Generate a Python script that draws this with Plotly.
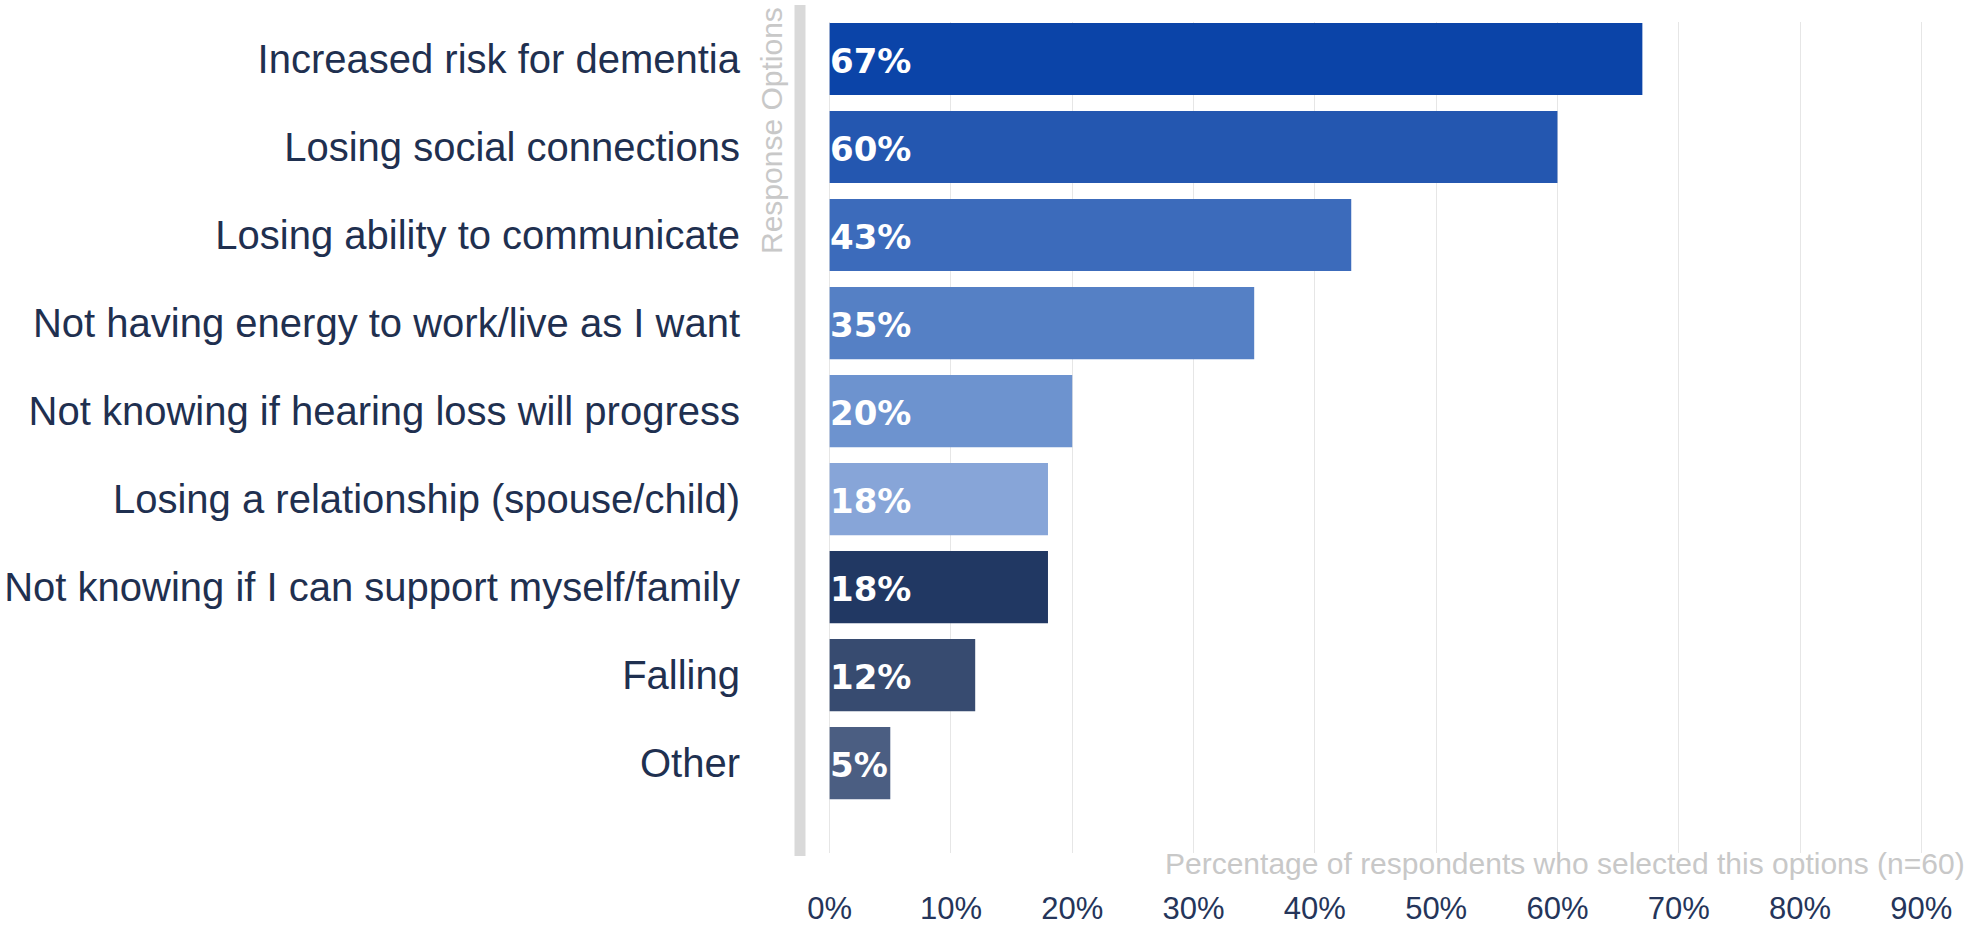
import plotly.graph_objects as go

# Survey results: share of respondents selecting each concern
categories = [
    "Increased risk for dementia",
    "Losing social connections",
    "Losing ability to communicate",
    "Not having energy to work/live as I want",
    "Not knowing if hearing loss will progress",
    "Losing a relationship (spouse/child)",
    "Not knowing if I can support myself/family",
    "Falling",
    "Other",
]
percent = [67, 60, 43, 35, 20, 18, 18, 12, 5]
bar_colors = [
    "#0B44A8", "#2457B0", "#3C6BBB", "#5580C5", "#6D93CF",
    "#87A5D8", "#213863", "#374B70", "#4B5E82",
]
tick_values = [0, 10, 20, 30, 40, 50, 60, 70, 80, 90]
tick_labels = [f"{v}%" for v in tick_values]

W, H = 1969, 927
M_L, M_R, M_T, M_B = 826, 44, 22, 74
plot_w = W - M_L - M_R
plot_h = H - M_T - M_B


def px_x(px):
    return (px - M_L) / plot_w


def px_y(py):
    return 1 - (py - M_T) / plot_h


fig = go.Figure()
fig.add_trace(go.Bar(
    x=percent,
    y=categories,
    orientation="h",
    marker=dict(color=bar_colors, line=dict(width=0)),
    hoverinfo="skip",
    showlegend=False,
))

# Value labels at the start of each bar
for cat, v in zip(categories, percent):
    fig.add_annotation(
        x=0, y=cat, xref="x", yref="y",
        text=f"{v}%", showarrow=False,
        xanchor="left", yanchor="middle", xshift=-2, yshift=-2,
        font=dict(family="DejaVu Sans", size=34, color="white", weight="bold"),
    )

# Grey rule separating labels from bars
fig.add_shape(
    type="line", xref="paper", yref="paper",
    x0=px_x(800), x1=px_x(800),
    y0=px_y(856), y1=px_y(5),
    line=dict(color="#D9D9D9", width=11),
)

# Rotated axis caption for the categories
fig.add_annotation(
    xref="paper", yref="paper",
    x=px_x(772), y=px_y(131),
    text="Response Options", textangle=-90, showarrow=False,
    xanchor="center", yanchor="middle",
    font=dict(family="Liberation Sans, Arial", size=30, color="#C8C8C8"),
)

# Caption for the value axis, placed above the tick labels
fig.add_annotation(
    xref="paper", yref="paper",
    x=px_x(1967), y=px_y(864),
    text="Percentage of respondents who selected this options (n=60)",
    showarrow=False, xanchor="right", yanchor="middle",
    font=dict(family="Liberation Sans, Arial", size=30, color="#C8C8C8"),
)

fig.update_layout(
    width=W, height=H,
    margin=dict(l=M_L, r=M_R, t=M_T, b=M_B, pad=0, autoexpand=False),
    paper_bgcolor="white", plot_bgcolor="white",
    bargap=0.18,
    font=dict(family="Liberation Sans, Arial", color="#1F3050"),
    xaxis=dict(
        range=[-0.3, 90.3],
        tickvals=tick_values, ticktext=tick_labels,
        showgrid=True, gridcolor="#E6E6E6", gridwidth=1,
        zeroline=False, showline=False, ticks="",
        tickfont=dict(size=31, color="#25355A"),
        ticklabelstandoff=34,
        automargin=False,
    ),
    yaxis=dict(
        categoryorder="array", categoryarray=categories,
        range=[9.02, -0.42],
        showgrid=False, zeroline=False, showline=False, ticks="",
        tickfont=dict(size=40, color="#1F3050"),
        ticklabelstandoff=85,
        automargin=False,
    ),
)

fig.write_html("out.html")
